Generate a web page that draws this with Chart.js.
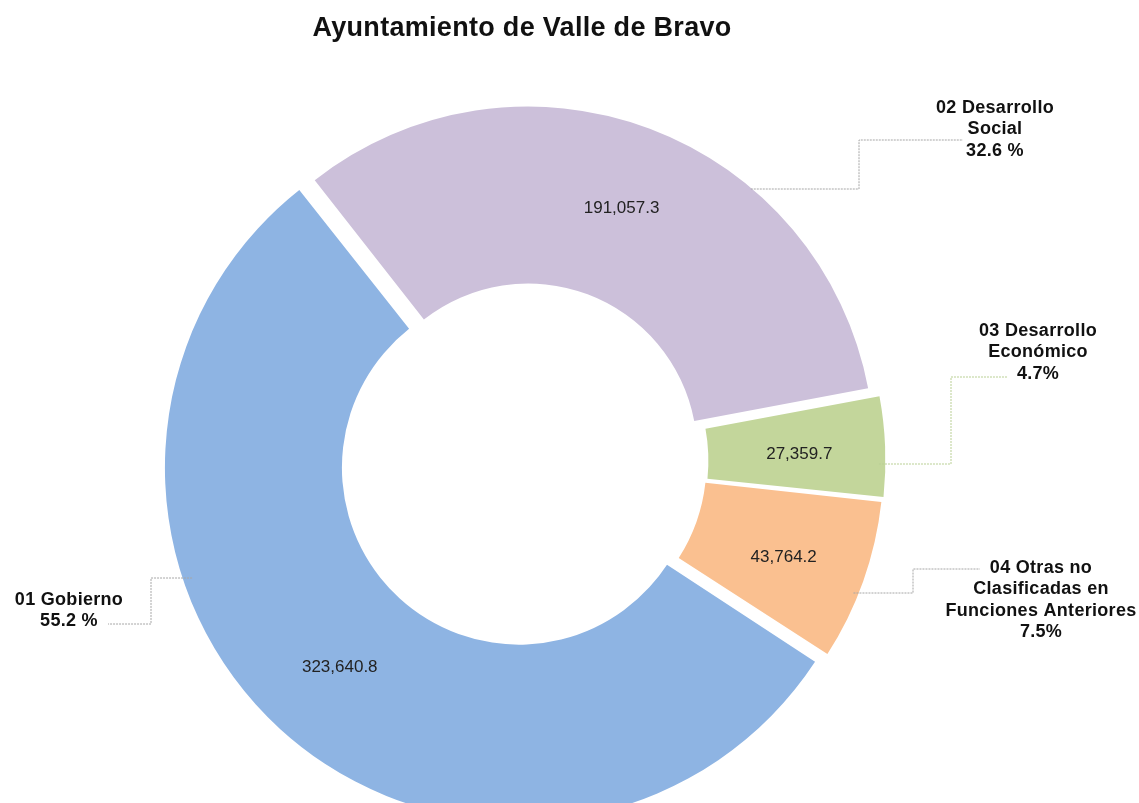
<!DOCTYPE html>
<html>
<head>
<meta charset="utf-8">
<script src="https://cdn.jsdelivr.net/npm/chart.js@4.4.0/dist/chart.umd.min.js"></script>
<style>
  body { margin: 0; background: #fff; }
  #wrap { width: 1139px; height: 803px; position: relative; }
</style>
</head>
<body>
<div id="wrap"><canvas id="chart"></canvas></div>
<script>
// Data
const categories = ["01 Gobierno", "02 Desarrollo Social", "03 Desarrollo Económico", "04 Otras no Clasificadas en Funciones Anteriores"];
const amounts = [323640.8, 191057.3, 27359.7, 43764.2];
const percentLabels = ["55.2 %", "32.6 %", "4.7%", "7.5%"];
const nameLines = [["01 Gobierno"], ["02 Desarrollo", "Social"], ["03 Desarrollo", "Económico"], ["04 Otras no", "Clasificadas en", "Funciones Anteriores"]];
const sliceColors = ["#8eb4e3", "#ccc0da", "#c3d69b", "#fac090"];

const FONT = "'Liberation Sans', Arial, sans-serif";
const SLICE_OFFSET = 36;

// where each outside label sits and how its leader line bends
const callouts = [
  { textX: 69, textY: 600, side: -1, y1: 578, elbowX: 151, y2: 624, endX: 108, color: "#a6a6a6" },
  { textX: 995, textY: 108, side: 1, y1: 189, elbowX: 859, y2: 140, endX: 963, color: "#a6a6a6" },
  { textX: 1038, textY: 331, side: 1, y1: 464, elbowX: 951, y2: 377, endX: 1008, color: "#b9cf94" },
  { textX: 1041, textY: 568, side: 1, y1: 593, elbowX: 913, y2: 569, endX: 980, color: "#a6a6a6" }
];

function formatAmount(v) {
  return v.toLocaleString("en-US", { minimumFractionDigits: 1, maximumFractionDigits: 1 });
}

const labelsPlugin = {
  id: "labels",
  afterDatasetsDraw(chart) {
    const ctx = chart.ctx;
    const meta = chart.getDatasetMeta(0);
    ctx.save();

    // title
    ctx.fillStyle = "#111";
    ctx.font = "bold 27px " + FONT;
    ctx.letterSpacing = "0.3px";
    ctx.textAlign = "center";
    ctx.textBaseline = "middle";
    ctx.fillText("Ayuntamiento de Valle de Bravo", 522, 29);

    meta.data.forEach((arc, i) => {
      // value inside the slice
      const p = arc.tooltipPosition();
      ctx.fillStyle = "#222";
      ctx.font = "17px " + FONT;
      ctx.letterSpacing = "0px";
      ctx.fillText(formatAmount(amounts[i]), p.x, p.y + 4);

      // leader line from the slice edge
      const c = callouts[i];
      const mid = (arc.startAngle + arc.endAngle) / 2;
      const t = SLICE_OFFSET / 4;
      const ax = arc.x + Math.cos(mid) * t;
      const ay = arc.y + Math.sin(mid) * t;
      const dy = c.y1 - ay;
      const x0 = ax + c.side * Math.sqrt(Math.max(arc.outerRadius * arc.outerRadius - dy * dy, 0));
      ctx.strokeStyle = c.color;
      ctx.lineWidth = 1;
      ctx.setLineDash([2, 1]);
      ctx.beginPath();
      ctx.moveTo(x0, c.y1);
      ctx.lineTo(c.elbowX, c.y1);
      ctx.lineTo(c.elbowX, c.y2);
      ctx.lineTo(c.endX, c.y2);
      ctx.stroke();
      ctx.setLineDash([]);

      // category name and percent
      ctx.fillStyle = "#111";
      ctx.font = "bold 18px " + FONT;
      ctx.letterSpacing = "0.3px";
      const lines = nameLines[i].concat([percentLabels[i]]);
      lines.forEach((txt, k) => ctx.fillText(txt, c.textX, c.textY + k * 21.5));
    });
    ctx.restore();
  }
};

new Chart(document.getElementById("chart"), {
  type: "doughnut",
  data: {
    labels: categories,
    datasets: [{
      data: amounts,
      backgroundColor: sliceColors,
      borderWidth: 0,
      offset: SLICE_OFFSET,
      clip: false
    }]
  },
  options: {
    responsive: true,
    maintainAspectRatio: false,
    animation: false,
    rotation: 123,
    radius: 345,
    cutout: "48.7%",
    layout: { padding: { left: 0, right: 89, top: 119, bottom: 0 } },
    plugins: {
      legend: { display: false },
      tooltip: { enabled: false },
      title: { display: false }
    }
  },
  plugins: [labelsPlugin]
});
</script>
</body>
</html>
